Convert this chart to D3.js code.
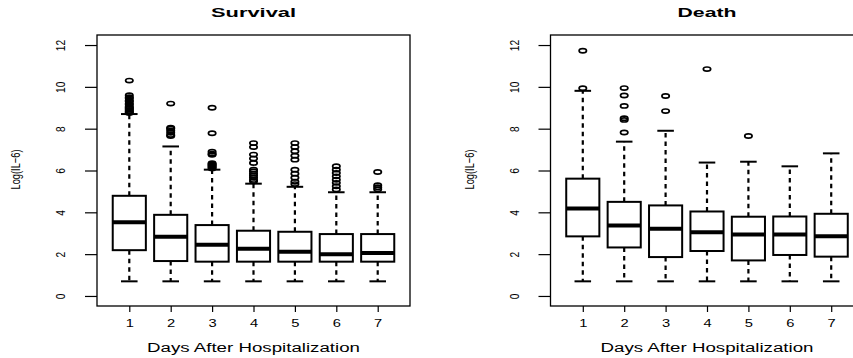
<!DOCTYPE html>
<html>
<head>
<meta charset="utf-8">
<script src="https://cdn.jsdelivr.net/npm/d3@7"></script>
<style>
  body { margin: 0; background: #fff; }
  svg { display: block; font-family: "Liberation Sans", Arial, sans-serif; }
</style>
</head>
<body>
<svg id="chart" width="853" height="358"></svg>
<script>
// data (log IL-6 per day after hospitalization)
const days = [1, 2, 3, 4, 5, 6, 7];
const yTicks = [0, 2, 4, 6, 8, 10, 12];
const panelTitles = ["Survival", "Death"];

const survivalLower  = [0.70, 0.70, 0.70, 0.70, 0.70, 0.70, 0.70];
const survivalQ1     = [2.19, 1.67, 1.64, 1.64, 1.64, 1.64, 1.64];
const survivalMedian = [3.53, 2.83, 2.45, 2.26, 2.12, 2.00, 2.05];
const survivalQ3     = [4.79, 3.88, 3.39, 3.12, 3.07, 2.96, 2.96];
const survivalUpper  = [8.70, 7.15, 6.04, 5.37, 5.22, 4.96, 4.96];
const survivalOutliers = [
  [10.3, 9.6, 9.5, 9.45, 9.35, 9.3, 9.2, 9.15, 9.05, 9.0, 8.95, 8.9, 8.85, 8.8, 8.75],
  [9.2, 8.05, 8.0, 7.9, 7.8, 7.7, 7.65],
  [9.0, 7.78, 6.9, 6.8, 6.75, 6.35, 6.3, 6.25, 6.2, 6.15, 6.1],
  [7.31, 7.12, 6.76, 6.57, 6.36, 6.04, 5.95, 5.85, 5.75, 5.65, 5.55, 5.48],
  [7.31, 7.12, 6.92, 6.71, 6.52, 6.04, 5.85, 5.65, 5.46, 5.35],
  [6.2, 6.04, 5.88, 5.72, 5.56, 5.41, 5.25, 5.09],
  [5.93, 5.3, 5.2, 5.1]
];

const deathLower  = [0.70, 0.70, 0.70, 0.70, 0.70, 0.70, 0.70];
const deathQ1     = [2.85, 2.32, 1.86, 2.15, 1.70, 1.96, 1.88];
const deathMedian = [4.18, 3.37, 3.21, 3.05, 2.94, 2.94, 2.85];
const deathQ3     = [5.61, 4.50, 4.33, 4.04, 3.79, 3.80, 3.93];
const deathUpper  = [9.81, 7.38, 7.90, 6.38, 6.42, 6.20, 6.82];
const deathOutliers = [
  [11.73, 9.93],
  [9.94, 9.59, 9.09, 8.5, 8.42, 7.82],
  [9.56, 8.84],
  [10.85],
  [7.65],
  [],
  []
];

const svg = d3.select("#chart");

// plot region of each panel (R style: 4% padding on both axes)
const panelLeft = [97, 550.5];
const plotW = 313, plotTop = 35, plotBottom = 306;

const x = d3.scaleLinear().domain([0.22, 7.78]).range([0, plotW]);
const y = d3.scaleLinear().domain([-0.48, 12.48]).range([plotBottom, plotTop]);

function buildStats(lower, q1, med, q3, upper, outl) {
  return days.map((d, i) => ({
    day: d, lower: lower[i], q1: q1[i], median: med[i], q3: q3[i], upper: upper[i], out: outl[i]
  }));
}

const panels = [
  buildStats(survivalLower, survivalQ1, survivalMedian, survivalQ3, survivalUpper, survivalOutliers),
  buildStats(deathLower, deathQ1, deathMedian, deathQ3, deathUpper, deathOutliers)
];

function drawPanel(stats, p) {
  const g = svg.append("g").attr("transform", `translate(${panelLeft[p]},0)`);
  const half = (x(1.4) - x(1)), staple = (x(1.2) - x(1));

  // whiskers, dashed
  const wh = g.append("g").attr("stroke", "#000").attr("stroke-width", 2.2).attr("stroke-dasharray", "4.5,4");
  wh.selectAll(".wu").data(stats).join("line")
    .attr("x1", d => x(d.day)).attr("x2", d => x(d.day))
    .attr("y1", d => y(d.q3)).attr("y2", d => y(d.upper));
  wh.selectAll(".wl").data(stats).join("line")
    .attr("x1", d => x(d.day)).attr("x2", d => x(d.day))
    .attr("y1", d => y(d.q1)).attr("y2", d => y(d.lower));

  // staples
  const st = g.append("g").attr("stroke", "#000").attr("stroke-width", 2);
  ["upper", "lower"].forEach(k => {
    st.selectAll(".s" + k).data(stats).join("line")
      .attr("x1", d => x(d.day) - staple).attr("x2", d => x(d.day) + staple)
      .attr("y1", d => y(d[k])).attr("y2", d => y(d[k]));
  });

  // boxes + medians
  g.selectAll("rect.box").data(stats).join("rect")
    .attr("class", "box")
    .attr("x", d => x(d.day) - half).attr("width", 2 * half)
    .attr("y", d => y(d.q3)).attr("height", d => y(d.q1) - y(d.q3))
    .attr("fill", "#fff").attr("stroke", "#000").attr("stroke-width", 2);
  g.selectAll("line.med").data(stats).join("line")
    .attr("class", "med")
    .attr("x1", d => x(d.day) - half).attr("x2", d => x(d.day) + half)
    .attr("y1", d => y(d.median)).attr("y2", d => y(d.median))
    .attr("stroke", "#000").attr("stroke-width", 4);

  // outliers
  const pts = stats.flatMap(d => d.out.map(v => ({ day: d.day, v: v })));
  g.selectAll("ellipse").data(pts).join("ellipse")
    .attr("cx", d => x(d.day)).attr("cy", d => y(d.v))
    .attr("rx", 3.7).attr("ry", 2.1)
    .attr("fill", "none").attr("stroke", "#000").attr("stroke-width", 1.7);

  // frame
  g.append("rect").attr("x", 0).attr("y", plotTop).attr("width", plotW).attr("height", plotBottom - plotTop)
    .attr("fill", "none").attr("stroke", "#000").attr("stroke-width", 1.3);

  // y axis
  const ya = g.append("g").call(d3.axisLeft(y).tickValues(yTicks).tickSize(12));
  ya.select(".domain").remove();
  ya.selectAll(".tick line").attr("stroke-width", 1.2);
  ya.selectAll(".tick text")
    .attr("x", 0).attr("dy", 0).attr("text-anchor", "middle")
    .attr("transform", "translate(-32,0) rotate(-90) scale(0.85,1)")
    .attr("font-size", 12).attr("font-family", null).attr("fill", "#000");

  // x axis
  const xa = g.append("g").attr("transform", `translate(0,${plotBottom})`)
    .call(d3.axisBottom(x).tickValues(days).tickSize(6));
  xa.select(".domain").remove();
  xa.selectAll(".tick line").attr("stroke-width", 1.2);
  xa.selectAll(".tick text")
    .attr("y", 21.5).attr("dy", 0)
    .attr("transform", "scale(1.4,1)")
    .attr("font-size", 10.5).attr("font-family", null).attr("fill", "#000");

  // labels
  g.append("text").attr("x", plotW / 2).attr("y", 16.7).attr("text-anchor", "middle")
    .attr("font-weight", "bold").attr("font-size", 13.5)
    .attr("textLength", p === 0 ? 85 : 59).attr("lengthAdjust", "spacingAndGlyphs")
    .text(panelTitles[p]);
  g.append("text").attr("x", plotW / 2).attr("y", 352).attr("text-anchor", "middle")
    .attr("font-size", 12).attr("textLength", 213).attr("lengthAdjust", "spacingAndGlyphs")
    .text("Days After Hospitalization");
  g.append("text").attr("transform", `translate(-77,${(plotTop + plotBottom) / 2 - 1}) rotate(-90)`)
    .attr("text-anchor", "middle").attr("font-size", 13)
    .attr("textLength", 40).attr("lengthAdjust", "spacingAndGlyphs")
    .text("Log(IL\u22126)");
}

panels.forEach((stats, p) => drawPanel(stats, p));
</script>
</body>
</html>
